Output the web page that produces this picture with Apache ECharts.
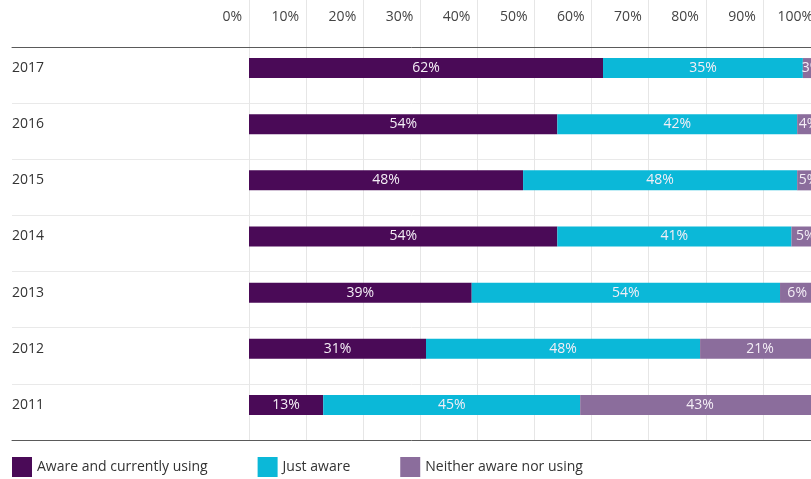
<!DOCTYPE html>
<html><head><meta charset="utf-8">
<script src="https://cdn.jsdelivr.net/npm/echarts@6/dist/echarts.min.js"></script>
<style>html,body{margin:0;padding:0;background:#fff}#c{width:811px;height:479px}</style>
</head><body><div id="c"></div>
<script>
const years = ['2017','2016','2015','2014','2013','2012','2011'];
const awareUsing = [62,54,48,54,39,31,13];
const justAware = [35,42,48,41,54,48,45];
const neither = [3,4,5,5,6,21,43];
const seriesNames = ['Aware and currently using','Just aware','Neither aware nor using'];
const colors = ['#4a0a57','#0bb8d8','#8b6d9c'];
const FONT = 'Open Sans';

const chart = echarts.init(document.getElementById('c'), null, {renderer:'canvas'});
const barBase = {
  type:'bar', stack:'total', xAxisIndex:3, yAxisIndex:2, barWidth:20, barGap:'-30%',
  label:{show:true, position:'inside', formatter:'{c}%', color:'#f4eef6', fontSize:14, fontFamily:FONT},
  emphasis:{disabled:true}
};
const dataSets = [awareUsing, justAware, neither];
const series = dataSets.map((d,i)=>Object.assign({}, barBase, {
  name: seriesNames[i], data: d, itemStyle:{color: colors[i]}
}));
series.push({type:'bar', name:'pad', stack:'pad', xAxisIndex:3, yAxisIndex:2, barWidth:20, barGap:'-30%',
  data: years.map(()=>0), itemStyle:{color:'rgba(0,0,0,0)'}, label:{show:false}, silent:true});

chart.setOption({
  animation:false,
  textStyle:{fontFamily:FONT},
  grid:[
    {left:12, right:0, top:47, bottom:39, outerBoundsMode:'none'},
    {left:249, width:571, top:0, bottom:39, outerBoundsMode:'none'},
    {left:249, width:571, top:47, bottom:39, outerBoundsMode:'none'}
  ],
  xAxis:[
    {gridIndex:0, type:'value', min:0, max:1, position:'top',
      axisLine:{show:true, lineStyle:{color:'#5a5a5a', width:1}}, axisTick:{show:false}, axisLabel:{show:false}, splitLine:{show:false}},
    {gridIndex:0, type:'value', min:0, max:1, position:'bottom',
      axisLine:{show:true, lineStyle:{color:'#5a5a5a', width:1}}, axisTick:{show:false}, axisLabel:{show:false}, splitLine:{show:false}},
    {gridIndex:1, type:'value', min:0, max:100, interval:10, position:'top',
      axisLine:{show:false}, axisTick:{show:false},
      axisLabel:{inside:true, margin:10, formatter:'{value}%', align:'right', padding:[0,7,0,0], color:'#444', fontSize:14, fontFamily:FONT},
      splitLine:{show:true, lineStyle:{color:'#e6e6e6', width:1}}},
    {gridIndex:2, type:'value', min:0, max:100, show:false}
  ],
  yAxis:[
    {gridIndex:0, type:'category', data:years, inverse:true,
      axisLine:{show:false}, axisTick:{show:false},
      axisLabel:{inside:true, margin:0, color:'#333', fontSize:14, fontFamily:FONT, verticalAlign:'bottom', lineHeight:14},
      splitLine:{show:true, lineStyle:{color:'#e9e9e9', width:1}}},
    {gridIndex:1, type:'value', show:false},
    {gridIndex:2, type:'category', data:years, inverse:true, show:false}
  ],
  legend:{
    data: seriesNames, left:12, top:457, padding:0, icon:'rect', itemWidth:20, itemHeight:20, itemGap:50,
    textStyle:{color:'#333', fontSize:14, fontFamily:FONT}, selectedMode:false
  },
  series: series
});
</script>
</body></html>
